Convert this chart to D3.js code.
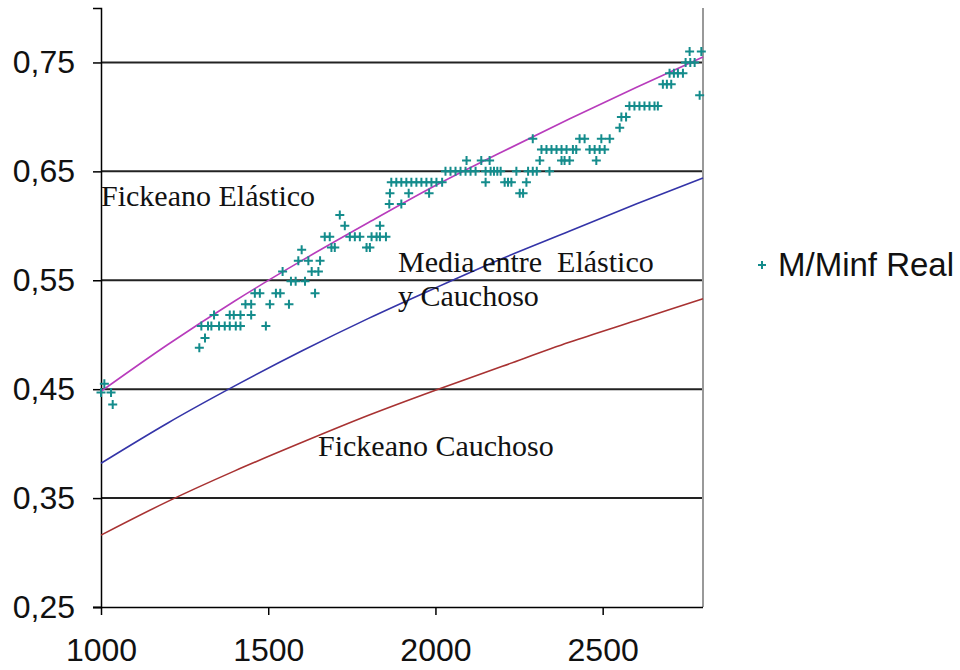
<!DOCTYPE html>
<html>
<head>
<meta charset="utf-8">
<title>M/Minf</title>
<script src="https://d3js.org/d3.v7.min.js"></script>
<style>
  body { margin: 0; background: #fff; }
  .tick text { font-family: "Liberation Sans", Arial, sans-serif; font-size: 32px; fill: #111; }
</style>
</head>
<body>
<div id="chart"></div>
<script>
// tiempo (eje x) en que se leen las curvas
const curveT = [1000, 1200, 1400, 1600, 1800, 2000, 2200, 2400, 2600, 2800];
const elastico = [0.448, 0.491, 0.531, 0.568, 0.603, 0.637, 0.668, 0.698, 0.727, 0.755];
const media    = [0.382, 0.419, 0.453, 0.485, 0.515, 0.543, 0.570, 0.595, 0.620, 0.644];
const cauchoso = [0.316, 0.347, 0.375, 0.401, 0.426, 0.449, 0.471, 0.493, 0.513, 0.533];

// puntos experimentales M/Minf Real
const realT = [1000, 1010, 1030, 1035,
  1294, 1311, 1300, 1320, 1330, 1353, 1370, 1385, 1403, 1417,
  1338, 1385, 1397, 1417, 1449, 1493,
  1432, 1449, 1505, 1562,
  1460, 1475, 1523, 1536, 1640,
  1568, 1582, 1610,
  1543, 1630, 1650,
  1590, 1620, 1655,
  1600, 1689, 1699, 1794, 1804,
  1669, 1684, 1744, 1759, 1774, 1809, 1824, 1834, 1852,
  1729, 1834, 1714,
  1862, 1898,
  1864, 1920, 1981,
  1868, 1883, 1898, 1913, 1928, 1943, 1958, 1973, 1988, 2003, 2020,
  2030, 2045, 2060, 2075, 2090, 2105, 2120, 2150, 2165, 2175, 2185, 2195, 2242, 2277, 2291, 2303, 2341,
  2093, 2137, 2162, 2312, 2377, 2386, 2401, 2481,
  2150, 2207, 2217, 2227, 2272,
  2252, 2262,
  2291, 2431, 2446, 2496, 2521,
  2317, 2332, 2347, 2362, 2377, 2392, 2411, 2421, 2461, 2476, 2491, 2506,
  2551, 2556, 2570,
  2580, 2595, 2610, 2625, 2640, 2655, 2665,
  2680, 2692, 2705,
  2700, 2713, 2725, 2740,
  2748, 2762, 2775,
  2760, 2795, 2790];
const realM = [0.447, 0.455, 0.447, 0.436,
  0.488, 0.497, 0.508, 0.508, 0.508, 0.508, 0.508, 0.508, 0.508, 0.508,
  0.518, 0.518, 0.518, 0.518, 0.518, 0.508,
  0.528, 0.528, 0.528, 0.528,
  0.538, 0.538, 0.538, 0.538, 0.538,
  0.549, 0.549, 0.549,
  0.558, 0.558, 0.558,
  0.568, 0.568, 0.568,
  0.578, 0.58, 0.58, 0.58, 0.58,
  0.59, 0.59, 0.59, 0.59, 0.59, 0.59, 0.59, 0.59, 0.59,
  0.60, 0.60, 0.61,
  0.62, 0.62,
  0.63, 0.63, 0.63,
  0.64, 0.64, 0.64, 0.64, 0.64, 0.64, 0.64, 0.64, 0.64, 0.64, 0.64,
  0.65, 0.65, 0.65, 0.65, 0.65, 0.65, 0.65, 0.65, 0.65, 0.65, 0.65, 0.65, 0.65, 0.65, 0.65, 0.65, 0.65,
  0.66, 0.66, 0.66, 0.66, 0.66, 0.66, 0.66, 0.66,
  0.64, 0.64, 0.64, 0.64, 0.64,
  0.63, 0.63,
  0.68, 0.68, 0.68, 0.68, 0.68,
  0.67, 0.67, 0.67, 0.67, 0.67, 0.67, 0.67, 0.67, 0.67, 0.67, 0.67, 0.67,
  0.69, 0.70, 0.70,
  0.71, 0.71, 0.71, 0.71, 0.71, 0.71, 0.71,
  0.73, 0.73, 0.73,
  0.74, 0.74, 0.74, 0.74,
  0.75, 0.75, 0.75,
  0.76, 0.76, 0.72];

const yTicks = [0.25, 0.35, 0.45, 0.55, 0.65, 0.75];
const xTicks = [1000, 1500, 2000, 2500];

let svg = d3.select("#chart").append("svg")
    .attr("width", 960)
    .attr("height", 670);

let x = d3.scaleLinear().domain([1000, 2800]).range([101, 703]);
let y = d3.scaleLinear().domain([0.25, 0.80]).range([607, 8]);

// lineas horizontales
svg.append("g").selectAll("line")
    .data(yTicks.slice(1))
    .join("line")
    .attr("x1", x(1000)).attr("x2", x(2800))
    .attr("y1", d => y(d)).attr("y2", d => y(d))
    .attr("stroke", "#222").attr("stroke-width", 2);

// borde derecho
svg.append("line")
    .attr("x1", x(2800)).attr("x2", x(2800))
    .attr("y1", y(0.80)).attr("y2", y(0.25))
    .attr("stroke", "#999").attr("stroke-width", 2);

// ejes
let yAxis = d3.axisLeft(y).tickValues(yTicks).tickSize(8).tickPadding(18)
    .tickFormat(d => d3.format(".2f")(d).replace(".", ","));
let gy = svg.append("g").attr("transform", "translate(101,0)").call(yAxis);

let xAxis = d3.axisBottom(x).tickValues(xTicks).tickSize(8).tickPadding(23).tickFormat(d3.format("d"));
let gx = svg.append("g").attr("transform", "translate(0,607)").call(xAxis);

[gx, gy].forEach(g => {
    g.select(".domain").attr("stroke", "#000").attr("stroke-width", 1.5);
    g.selectAll(".tick line").attr("stroke", "#000").attr("stroke-width", 1.5);
});
gx.select(".domain").attr("d", "M93,0.5H703");

// curvas
let line = d3.line().x((d, i) => x(curveT[i])).y(d => y(d)).curve(d3.curveMonotoneX);
let curves = [[elastico, "#b83cbc"], [media, "#3434a8"], [cauchoso, "#a83232"]];
curves.forEach(c => {
    svg.append("path")
        .attr("d", line(c[0]))
        .attr("fill", "none")
        .attr("stroke", c[1])
        .attr("stroke-width", 1.6);
});

// puntos
let plus = "M-4.5,0H4.5M0,-4.5V4.5";
svg.append("g").selectAll("path")
    .data(realT)
    .join("path")
    .attr("d", plus)
    .attr("transform", (d, i) => "translate(" + x(d) + "," + y(realM[i]) + ")")
    .attr("stroke", "#148c8c")
    .attr("stroke-width", 2)
    .attr("fill", "none");

// etiquetas de las curvas
let labels = [
    ["Fickeano Elástico", 101, 206],
    ["Media entre\u00a0 Elástico", 398, 272],
    ["y Cauchoso", 398, 306],
    ["Fickeano Cauchoso", 318, 456]
];
svg.append("g").selectAll("text")
    .data(labels)
    .join("text")
    .attr("x", d => d[1]).attr("y", d => d[2])
    .attr("font-family", "'Liberation Serif', 'Times New Roman', serif")
    .attr("font-size", "30px")
    .attr("fill", "#111")
    .text(d => d[0]);

// leyenda
svg.append("path")
    .attr("d", "M-4,0H4M0,-4V4")
    .attr("transform", "translate(762,265)")
    .attr("stroke", "#148c8c").attr("stroke-width", 2);
svg.append("text")
    .attr("x", 778).attr("y", 276)
    .attr("font-family", "'Liberation Sans', Arial, sans-serif")
    .attr("font-size", "33px")
    .attr("fill", "#111")
    .text("M/Minf Real");
</script>
</body>
</html>
